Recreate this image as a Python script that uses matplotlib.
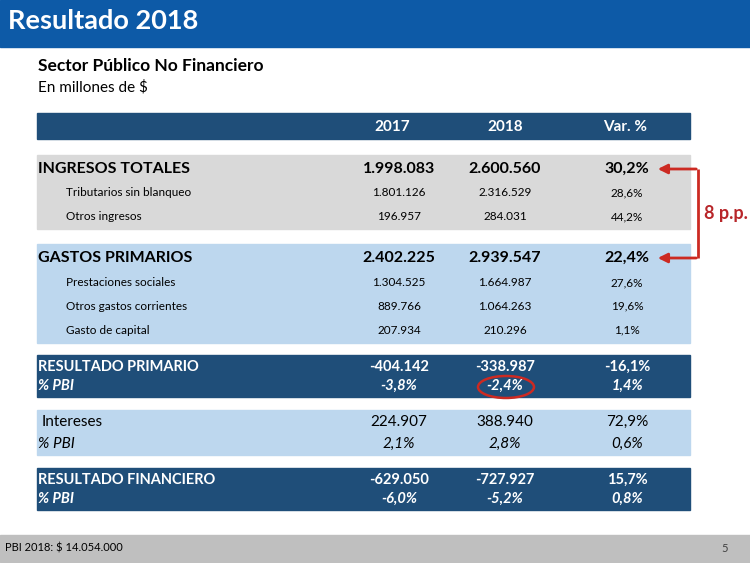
import matplotlib.pyplot as plt
from matplotlib.patches import Rectangle, Ellipse

plt.rcParams['font.family'] = ['Lato', 'DejaVu Sans']

# datos (millones de $)
columnas = ['2017', '2018', 'Var. %']

ingresos = ['INGRESOS TOTALES', 'Tributarios sin blanqueo', 'Otros ingresos']
ingresos_2017 = [1998083, 1801126, 196957]
ingresos_2018 = [2600560, 2316529, 284031]
ingresos_var = [30.2, 28.6, 44.2]

gastos = ['GASTOS PRIMARIOS', 'Prestaciones sociales', 'Otros gastos corrientes', 'Gasto de capital']
gastos_2017 = [2402225, 1304525, 889766, 207934]
gastos_2018 = [2939547, 1664987, 1064263, 210296]
gastos_var = [22.4, 27.6, 19.6, 1.1]

resultados = ['RESULTADO PRIMARIO', 'Intereses', 'RESULTADO FINANCIERO']
res_2017 = [-404142, 224907, -629050]
res_2018 = [-338987, 388940, -727927]
res_var = [-16.1, 72.9, 15.7]
pbi_2017 = [-3.8, 2.1, -6.0]
pbi_2018 = [-2.4, 2.8, -5.2]
pbi_var = [1.4, 0.6, 0.8]

pbi_total = 14054000
diferencia_pp = 8


def miles(v):
    return f"{v:,}".replace(',', '.')


def pct(v):
    return f"{v:.1f}%".replace('.', ',')


NAVY = '#1f4e79'
CELESTE = '#bdd7ee'
GRIS = '#d9d9d9'
ROJO = '#cc2a22'
xcol = [399, 505, 627]
xhead = [392, 505, 625]

fig = plt.figure(figsize=(7.5, 5.63), dpi=100)
ax = fig.add_axes([0, 0, 1, 1])
ax.set_xlim(0, 750)
ax.set_ylim(563, 0)
ax.axis('off')

# banner
ax.add_patch(Rectangle((0, 0), 750, 47, color='#0d5aa7'))
ax.text(8, 21, 'Resultado 2018', color='white', fontsize=19.5, fontweight='bold', va='center')
ax.text(38, 66, 'Sector Público No Financiero', fontsize=12.5, fontweight='bold', va='center')
ax.text(38, 87, 'En millones de $', fontsize=11, va='center')

# encabezado
ax.add_patch(Rectangle((37, 113), 653, 26, color=NAVY))
for x, c in zip(xhead, columnas):
    ax.text(x, 127, c, color='white', fontsize=11, fontweight='bold', ha='center', va='center')


def bloque(y0, y1, color, filas, v17, v18, var, ys):
    ax.add_patch(Rectangle((37, y0), 653, y1 - y0, color=color))
    for i, (lab, a, b, c, y) in enumerate(zip(filas, v17, v18, var, ys)):
        if i == 0:
            kw = dict(fontsize=11.5, fontweight='bold')
            ax.text(38, y, lab, va='center', **kw)
        else:
            kw = dict(fontsize=8.5)
            ax.text(66, y, lab, va='center', **kw)
        for x, s in zip(xcol, [miles(a), miles(b), pct(c)]):
            ax.text(x, y, s, ha='center', va='center', **kw)


bloque(155, 229, GRIS, ingresos, ingresos_2017, ingresos_2018, ingresos_var, [169, 193, 217])
bloque(244, 343, CELESTE, gastos, gastos_2017, gastos_2018, gastos_var, [258, 283, 306, 330])

# resultados
cajas = [(355, 397, NAVY, 'white'), (410, 455, CELESTE, 'black'), (468, 510, NAVY, 'white')]
for i, (y0, y1, fondo, tc) in enumerate(cajas):
    ax.add_patch(Rectangle((37, y0), 653, y1 - y0, color=fondo))
    ya, yb = y0 + 12, y1 - 11
    peso = 'normal' if resultados[i] == 'Intereses' else 'bold'
    xl = 42 if peso == 'normal' else 38
    fs = 11 if peso == 'normal' else 10.5
    ax.text(xl, ya, resultados[i], color=tc, fontsize=fs, fontweight=peso, va='center')
    ax.text(38, yb, '% PBI', color=tc, fontsize=fs, fontweight=peso, fontstyle='italic', va='center')
    for x, s in zip(xcol, [miles(res_2017[i]), miles(res_2018[i]), pct(res_var[i])]):
        ax.text(x, ya, s, color=tc, fontsize=fs, fontweight=peso, ha='center', va='center')
    for x, s in zip(xcol, [pct(pbi_2017[i]), pct(pbi_2018[i]), pct(pbi_var[i])]):
        ax.text(x, yb, s, color=tc, fontsize=fs, fontweight=peso, fontstyle='italic',
                ha='center', va='center')

# círculo rojo sobre -2,4%
ax.add_patch(Ellipse((506, 387), 56, 22, fill=False, ec=ROJO, lw=1.8))

# flechas 8 p.p.
ax.plot([698, 698], [169, 258], color=ROJO, lw=2, solid_capstyle='butt')
for y in [169, 258]:
    ax.annotate('', xy=(655, y), xytext=(699, y),
                arrowprops=dict(arrowstyle='-|>', color=ROJO, lw=2, mutation_scale=14))
ax.text(704, 213, f'{diferencia_pp} p.p.', color='#b8262a', fontsize=13, fontweight='bold', va='center')

# pie
ax.add_patch(Rectangle((0, 535), 750, 27, color='#bfbfbf'))
ax.text(5, 548, f'PBI 2018: $ {miles(pbi_total)}', fontsize=8, va='center')
ax.text(721, 548, '5', fontsize=8, va='center', color='#404040')

fig.savefig('out.png', dpi=100)
